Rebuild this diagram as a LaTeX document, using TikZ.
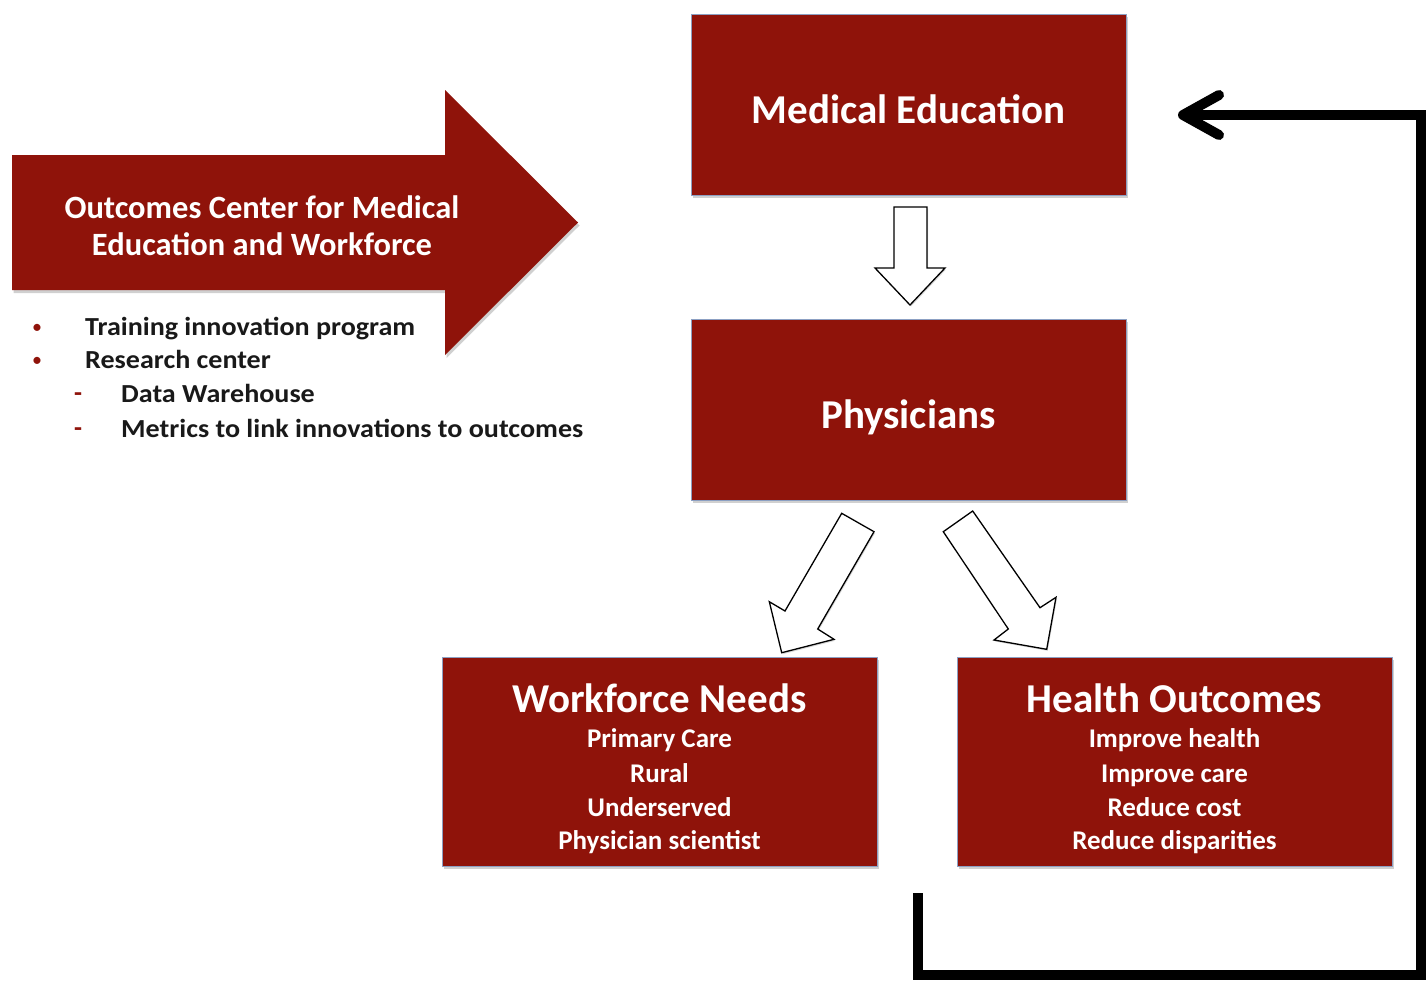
\documentclass[tikz,border=0pt]{standalone}
\usepackage{fontspec}
\setmainfont{Carlito}
\newfontfamily\widefont[FakeStretch=1.08]{Carlito}
\usetikzlibrary{arrows.meta,shadows}
\definecolor{myred}{RGB}{143,19,10}
\definecolor{boxedge}{RGB}{140,160,195}
\definecolor{txtdark}{RGB}{25,25,25}
\tikzset{
  box/.style={rectangle, fill=myred, draw=boxedge, line width=0.8pt,
    minimum width=435pt, inner sep=0pt,
    drop shadow={shadow xshift=1.5pt, shadow yshift=-3pt, opacity=0.3, fill=black!60}},
  bigtxt/.style={anchor=base, text=white, inner sep=0pt, font=\bfseries\fontsize{41}{46}\selectfont},
  subtxt/.style={anchor=base, text=white, inner sep=0pt, font=\bfseries\fontsize{27}{30}\selectfont},
  hollow/.style={fill=white, draw=black, line width=1.3pt, line join=miter,
    drop shadow={shadow xshift=1pt, shadow yshift=-1.5pt, opacity=0.25, fill=black!60}},
  bul/.style={anchor=base west, text=txtdark, inner sep=0pt, font=\widefont\bfseries\fontsize{26}{28}\selectfont},
  bulmark/.style={anchor=base, text=myred, inner sep=0pt, font=\fontsize{20}{22}\selectfont},
  dashmark/.style={anchor=base, text=myred, inner sep=0pt, font=\bfseries\fontsize{26}{28}\selectfont},
  feedback/.style={draw=black, line width=10pt, line join=miter,
    -{Straight Barb[length=36pt, width=40pt, round]}}
}
\begin{document}
\begin{tikzpicture}[x=1pt, y=-1pt]
\useasboundingbox (0,0) rectangle (1427,980);
\fill[white] (0,0) rectangle (1427,980);

% big arrow
\fill[myred, drop shadow={shadow xshift=1.5pt, shadow yshift=-3pt, opacity=0.3, fill=black!60}]
  (12,155) -- (445,155) -- (445,90) -- (578,222.5) -- (445,355) -- (445,290) -- (12,290) -- cycle;
\node[text=white, align=center, font=\bfseries\fontsize{32.5}{37}\selectfont, inner sep=0pt, anchor=base] (oc) at (262,255)
  {Outcomes Center for Medical\\Education and Workforce};

% bullets
\node[bulmark] (b1) at (37,333) {•};
\node[bul] (t1) at (85,335) {Training innovation program};
\node[bulmark] (b2) at (37,366) {•};
\node[bul] (t2) at (85,368) {Research center};
\node[dashmark] (d1) at (78,401) {-};
\node[bul] (t3) at (121,402) {Data Warehouse};
\node[dashmark] (d2) at (78,436) {-};
\node[bul] (t4) at (121,437) {Metrics to link innovations to outcomes};

% boxes
\node[box, minimum height=181pt] (med) at (908.5,104.5) {};
\node[bigtxt] (medt) at (908.5,123) {Medical Education};
\node[box, minimum height=181pt] (phy) at (908.5,409.5) {};
\node[bigtxt] (phyt) at (908.5,428) {Physicians};
\node[box, minimum height=209pt] (wf) at (659.5,761.5) {};
\node[box, minimum height=209pt] (ho) at (1174.5,761.5) {};

\node[bigtxt] (wft) at (659.5,712) {Workforce Needs};
\node[subtxt] (wf1) at (659.5,747) {Primary Care};
\node[subtxt] (wf2) at (659.5,782) {Rural};
\node[subtxt] (wf3) at (659.5,816) {Underserved};
\node[subtxt] (wf4) at (659.5,849) {Physician scientist};

\node[bigtxt] (hot) at (1174.5,712) {Health Outcomes};
\node[subtxt] (ho1) at (1174.5,747) {Improve health};
\node[subtxt] (ho2) at (1174.5,782) {Improve care};
\node[subtxt] (ho3) at (1174.5,816) {Reduce cost};
\node[subtxt] (ho4) at (1174.5,849) {Reduce disparities};

% hollow arrows
\draw[hollow] (894,207) -- (927,207) -- (927,268) -- (945,268) -- (910,305) -- (875,268) -- (894,268) -- cycle;
\draw[hollow] (841.7,513.3) -- (874,531.7) -- (817.7,629) -- (834,639.3) -- (781.7,652.7) -- (769.3,601.7) -- (785,611) -- cycle;
\draw[hollow] (972.7,511) -- (1040,607.7) -- (1056,597.3) -- (1046.7,649.3) -- (994,640) -- (1008.3,629) -- (943.3,531.7) -- cycle;

% feedback loop
\coordinate (fbstart) at (918,893);
\coordinate (fbend) at (1178,115);
\draw[feedback] (fbstart) -- (918,975) -- (1421,975) -- (1421,115) -- (fbend);
\end{tikzpicture}
\end{document}
